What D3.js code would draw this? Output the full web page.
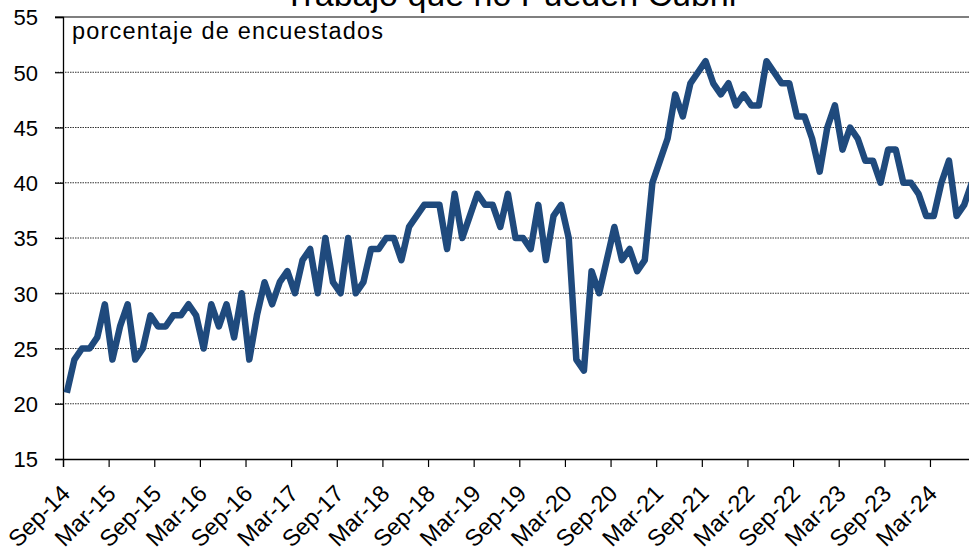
<!DOCTYPE html>
<html>
<head>
<meta charset="utf-8">
<script src="https://cdn.jsdelivr.net/npm/d3@7"></script>
<style>
  html, body { margin: 0; padding: 0; background: #fff; overflow: hidden; }
  svg { display: block; }
  text { font-family: "Liberation Sans", Arial, sans-serif; fill: #000; }
</style>
</head>
<body>
<svg id="chart" width="969" height="552"></svg>
<script>
// ---- data ----
const title = "Trabajo que no Pueden Cubrir";
const subtitle = "porcentaje de encuestados";
const startMonth = "2014-09";
const values = [
  21,24,25,25,26,29,24,27,29,24,25,28,27,27,28,28,29,28,25,29,27,29,26,30,24,
  28,31,29,31,32,30,33,34,30,35,31,30,35,30,31,34,34,35,35,33,36,37,38,38,38,
  34,39,35,37,39,38,38,36,39,35,35,34,38,33,37,38,35,24,23,32,30,33,36,33,34,
  32,33,40,42,44,48,46,49,50,51,49,48,49,47,48,47,47,51,50,49,49,46,46,44,41,
  45,47,43,45,44,42,42,40,43,43,40,40,39,37,37,40,42,37,38,40
];
const tickLabels = ["Sep-14","Mar-15","Sep-15","Mar-16","Sep-16","Mar-17","Sep-17","Mar-18","Sep-18","Mar-19",
  "Sep-19","Mar-20","Sep-20","Mar-21","Sep-21","Mar-22","Sep-22","Mar-23","Sep-23","Mar-24"];
const tickStep = 6;          // months between labelled ticks
const yTicks = [15,20,25,30,35,40,45,50,55];
const monthsInAxis = 120;

(function draw() {
  // ---- layout ----
  const mLeft = 63, mTop = 17, mBottom = 459;
  const pxPerMonth = 7.605;
  const mRight = mLeft + pxPerMonth * monthsInAxis;

  const svg = d3.select("#chart");
  const x = d3.scaleLinear().domain([0, monthsInAxis]).range([mLeft, mRight]);
  const y = d3.scaleLinear().domain([15, 55]).range([mBottom, mTop]);

  // gridlines
  svg.append("g").selectAll("line")
    .data(yTicks.filter(v => v > 15 && v < 55))
    .join("line")
    .attr("x1", mLeft - 8).attr("x2", mRight)
    .attr("y1", d => y(d)).attr("y2", d => y(d))
    .attr("stroke", "#333").attr("stroke-width", 1)
    .attr("stroke-dasharray", "1.5,1");

  // top border (55)
  svg.append("line")
    .attr("x1", mLeft - 8).attr("x2", mRight)
    .attr("y1", y(55)).attr("y2", y(55))
    .attr("stroke", "#000").attr("stroke-width", 1.2);

  // y axis
  const yAxis = d3.axisLeft(y).tickValues(yTicks).tickSize(8).tickPadding(17).tickFormat(d3.format("d"));
  const gy = svg.append("g").attr("transform", `translate(${mLeft},0)`).call(yAxis);
  gy.select(".domain").attr("stroke", "#000").attr("stroke-width", 1.3);
  gy.selectAll(".tick line").attr("stroke", "#000").attr("stroke-width", 1.2);
  gy.selectAll(".tick text").style("font-size", "22px").attr("dy", "0.36em")
    .style("font-family", "'Liberation Sans', Arial, sans-serif");

  // x axis
  const xAxis = d3.axisBottom(x)
    .tickValues(tickLabels.map((_, i) => i * tickStep))
    .tickSize(8)
    .tickFormat((d, i) => tickLabels[i]);
  const gx = svg.append("g").attr("transform", `translate(0,${mBottom})`).call(xAxis);
  gx.select(".domain").attr("stroke", "#000").attr("stroke-width", 1.3);
  gx.selectAll(".tick line").attr("stroke", "#000").attr("stroke-width", 1.2);
  gx.selectAll(".tick text")
    .style("font-size", "23.5px")
    .style("font-family", "'Liberation Sans', Arial, sans-serif")
    .attr("text-anchor", "end")
    .attr("dy", 0).attr("y", 0)
    .attr("transform", "translate(8,36) rotate(-45)");

  // line
  const line = d3.line()
    .x((d, i) => x(i + 0.5))
    .y(d => y(d));
  svg.append("path")
    .datum(values)
    .attr("d", line)
    .attr("fill", "none")
    .attr("stroke", "#1f4a7d")
    .attr("stroke-width", 6.5)
    .attr("stroke-linejoin", "round")
    .attr("stroke-linecap", "butt");

  // subtitle
  svg.append("text")
    .attr("x", 72).attr("y", 39)
    .style("font-size", "23.5px")
    .attr("textLength", 311).attr("lengthAdjust", "spacing")
    .text(subtitle);

  // title (partly cut off at top, as in the source)
  svg.append("text")
    .attr("x", 512).attr("y", 6)
    .attr("text-anchor", "middle")
    .style("font-size", "34px")
    .text(title);
})();
</script>
</body>
</html>
